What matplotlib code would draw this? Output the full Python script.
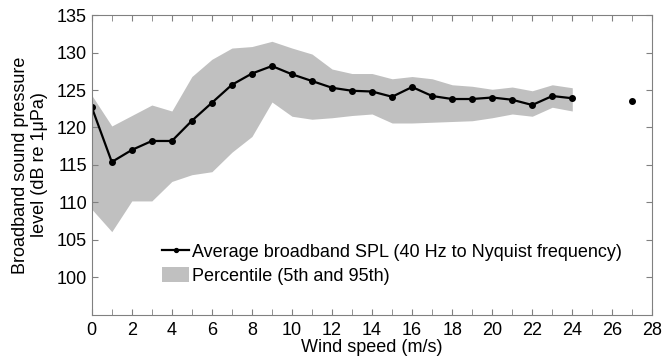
import matplotlib.pyplot as plt
from matplotlib.ticker import MultipleLocator

plt.rcParams['font.family'] = ['Liberation Sans', 'DejaVu Sans']

# wind speed bins (m/s)
wind = [0, 1, 2, 3, 4, 5, 6, 7, 8, 9, 10, 11, 12, 13, 14, 15, 16, 17, 18, 19, 20, 21, 22, 23, 24]
spl_mean = [122.7, 115.4, 117.0, 118.2, 118.2, 120.9, 123.3, 125.7, 127.2, 128.2, 127.1, 126.2, 125.3,
            124.9, 124.8, 124.1, 125.4, 124.2, 123.8, 123.8, 124.0, 123.7, 123.0, 124.2, 123.9]
p95 = [124.3, 120.2, 121.6, 123.0, 122.2, 126.8, 129.1, 130.6, 130.8, 131.5, 130.6, 129.8, 127.8,
       127.2, 127.2, 126.5, 126.8, 126.5, 125.7, 125.5, 125.1, 125.4, 124.9, 125.7, 125.3]
p5 = [109.1, 106.1, 110.2, 110.2, 112.8, 113.7, 114.1, 116.7, 118.8, 123.4, 121.5, 121.1, 121.3,
      121.6, 121.8, 120.6, 120.6, 120.7, 120.8, 120.9, 121.3, 121.8, 121.5, 122.7, 122.2]

# single isolated bin
wind_extra = [27]
spl_extra = [123.5]

fs = 13

fig, ax = plt.subplots(figsize=(6.65, 3.59), dpi=100)
fig.subplots_adjust(left=0.138, right=0.981, top=0.958, bottom=0.123)

ax.fill_between(wind, p5, p95, color='#c0c0c0', linewidth=0, label='Percentile (5th and 95th)')
ax.plot(wind, spl_mean, color='black', marker='o', markersize=4, linewidth=1.6,
        label='Average broadband SPL (40 Hz to Nyquist frequency)')
ax.plot(wind_extra, spl_extra, color='black', marker='o', markersize=4, linestyle='none')

ax.set_xlim(0, 28)
ax.set_ylim(95, 135)
ax.set_xticks(range(0, 29, 2))
ax.xaxis.set_minor_locator(MultipleLocator(1))
ax.set_yticks(range(100, 136, 5))
ax.tick_params(which='both', direction='in', top=True, right=True, color='#808080',
               labelsize=fs, length=4)
ax.tick_params(axis='x', pad=5)
for s in ax.spines.values():
    s.set_color('#808080')

ax.set_xlabel('Wind speed (m/s)', fontsize=fs, labelpad=0)
ax.set_ylabel('Broadband sound pressure\nlevel (dB re 1\u03bcPa)', fontsize=fs, labelpad=6)

handles, labels = ax.get_legend_handles_labels()
ax.legend(handles[::-1], labels[::-1], loc='lower left', bbox_to_anchor=(0.11, 0.07), frameon=False,
          fontsize=fs, handlelength=1.45, handleheight=0.95, handletextpad=0.17, labelspacing=0.3,
          borderpad=0, markerscale=0.7)

plt.savefig('out.png')
